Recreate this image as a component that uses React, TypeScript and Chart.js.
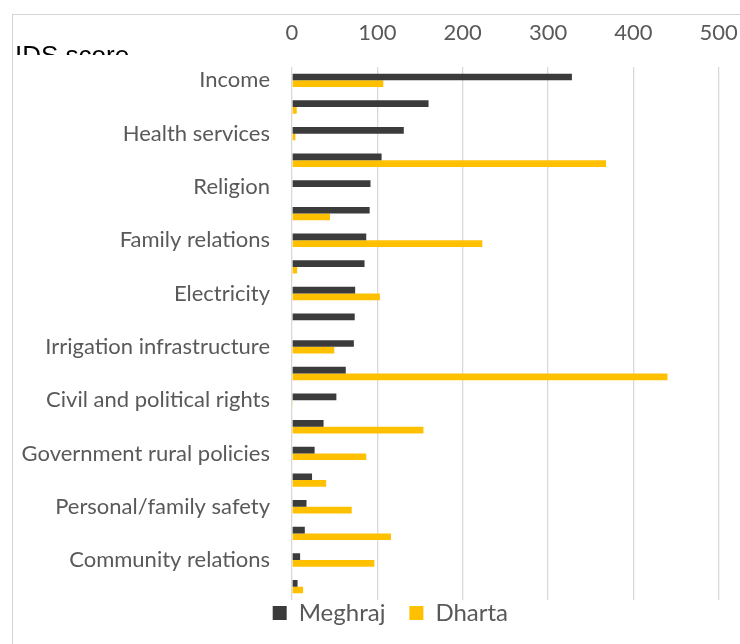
import React, { useEffect, useRef } from 'react';
import { Chart, registerables } from 'chart.js';

Chart.register(...registerables);

// Categories (unlabelled rows in the reference are left blank)
const categories = [
  'Income', '', 'Health services', '', 'Religion', '', 'Family relations', '',
  'Electricity', '', 'Irrigation infrastructure', '', 'Civil and political rights', '',
  'Government rural policies', '', 'Personal/family safety', '', 'Community relations', '',
];
const meghraj = [328, 160, 131, 105, 92, 91, 87, 85, 74, 73.5, 72.5, 63, 52, 37, 26.5, 23.5, 17, 15, 9.5, 6.5];
const dharta = [107, 5.5, 4, 368, 0, 44.5, 223, 6, 103, 0, 49.5, 440, 1, 154, 87, 40, 70, 116, 96.5, 13];
const seriesNames = ['Meghraj', 'Dharta'];
const xMin = 0;
const xMax = 500;
const xStep = 100;
const axisTitle = 'IDS score';

const legendNudge = {
  id: 'legendNudge',
  afterLayout(chart: any) {
    const lg = chart.legend;
    if (!lg) return;
    lg.top = chart.chartArea.bottom - 23;
    lg.bottom = chart.height;
    lg.height = lg.bottom - lg.top;
    lg.left = lg.left + 31;
    lg.right = lg.right + 31;
  },
};

export default function App() {
  const ref = useRef<HTMLCanvasElement>(null);
  useEffect(() => {
    const chart = new Chart(ref.current as HTMLCanvasElement, {
      type: 'bar',
      data: {
        labels: categories,
        datasets: [
          { label: seriesNames[0], data: meghraj, backgroundColor: '#3b3b3b', categoryPercentage: 0.5, barPercentage: 1 },
          { label: seriesNames[1], data: dharta, backgroundColor: '#FFC000', categoryPercentage: 0.5, barPercentage: 1 },
        ],
      },
      options: {
        indexAxis: 'y',
        animation: false,
        responsive: true,
        maintainAspectRatio: false,
        layout: { padding: { left: 0, right: 21.3, top: 0, bottom: 0 } },
        scales: {
          x: {
            position: 'top',
            min: xMin,
            max: xMax,
            ticks: { stepSize: xStep, padding: 21, color: '#595959', font: { family: 'Lato', size: 22 } },
            grid: { color: '#d9d9d9', lineWidth: 1.3, drawTicks: false },
            border: { display: false },
            afterFit: (s: any) => { s.height = 67; s.paddingLeft = 0; s.paddingRight = 0; },
          },
          y: {
            ticks: { autoSkip: false, padding: 22, color: '#595959', font: { family: 'Lato', size: 22 } },
            grid: { display: false, drawTicks: false },
            border: { display: false },
            afterFit: (s: any) => { s.width = 292; },
          },
        },
        plugins: {
          legend: {
            position: 'bottom',
            maxHeight: 44,
            labels: { boxWidth: 14, boxHeight: 14, padding: 24, color: '#595959', font: { family: 'Lato', size: 24 } },
          },
          tooltip: { enabled: false },
        },
      },
      plugins: [legendNudge],
    } as any);
    return () => chart.destroy();
  }, []);

  return (
    <div style={{ position: 'fixed', left: 0, top: 0, width: 740, height: 644, background: '#fff', overflow: 'hidden' }}>
      <div style={{ position: 'absolute', left: 12, top: 14, right: -2, bottom: -2, borderLeft: '1px solid #d4d4d4', borderTop: '1px solid #d4d4d4' }} />
      <div style={{ position: 'absolute', left: 0, top: 0, width: 740, height: 644 }}>
        <canvas ref={ref} />
      </div>
      <div style={{ position: 'absolute', left: 15, top: 0, width: 200, height: 55, overflow: 'hidden' }}>
        <div style={{ position: 'absolute', left: 0, top: 42, fontFamily: '"Liberation Sans", Arial, sans-serif', fontSize: 26, lineHeight: '26px', color: '#000', whiteSpace: 'nowrap' }}>{axisTitle}</div>
      </div>
    </div>
  );
}
